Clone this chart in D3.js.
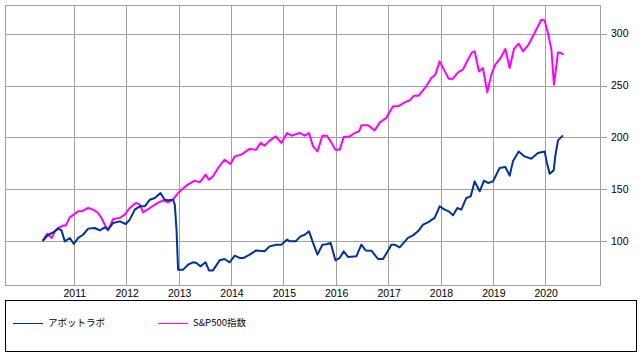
<!DOCTYPE html>
<html><head><meta charset="utf-8">
<script src="https://cdn.jsdelivr.net/npm/d3@7"></script>
<style>body{margin:0;background:#fff}svg{display:block}</style>
</head><body>
<svg id="c" width="643" height="356"></svg>
<script>
const abbottDates = ["2010-05-28","2010-07-06","2010-08-10","2010-09-14","2010-10-07","2010-10-30","2010-12-04","2011-01-01","2011-01-31","2011-03-07","2011-04-11","2011-05-27","2011-07-01","2011-08-05","2011-08-28","2011-10-02","2011-11-18","2011-12-29","2012-01-26","2012-03-01","2012-04-05","2012-05-10","2012-06-14","2012-07-19","2012-08-27","2012-09-26","2012-10-19","2012-11-23","2012-12-05","2012-12-17","2012-12-28","2013-02-01","2013-03-07","2013-04-11","2013-05-05","2013-06-01","2013-07-08","2013-07-31","2013-08-28","2013-10-14","2013-11-17","2013-12-22","2014-01-27","2014-03-02","2014-03-30","2014-05-11","2014-06-26","2014-08-23","2014-09-27","2014-11-13","2014-12-18","2015-01-27","2015-02-15","2015-03-28","2015-04-30","2015-05-30","2015-06-29","2015-07-27","2015-08-27","2015-09-30","2015-10-28","2015-11-27","2015-12-30","2016-01-29","2016-02-26","2016-03-27","2016-05-24","2016-06-28","2016-07-28","2016-09-06","2016-10-22","2016-11-26","2017-01-07","2017-01-23","2017-02-15","2017-03-22","2017-05-19","2017-06-23","2017-07-28","2017-09-01","2017-10-05","2017-11-21","2017-12-26","2018-01-30","2018-02-27","2018-03-29","2018-04-28","2018-05-26","2018-06-30","2018-07-30","2018-08-27","2018-10-01","2018-10-31","2018-11-28","2019-01-02","2019-02-17","2019-03-29","2019-04-28","2019-05-21","2019-06-30","2019-08-10","2019-09-26","2019-11-11","2019-12-28","2020-01-13","2020-02-01","2020-02-29","2020-03-11","2020-03-30","2020-05-04"];
const abbottValues = [100,106,108.3,111.9,110.2,99.6,102.9,97.1,102.9,106,111.9,112.5,110.2,113.1,110.9,117.4,118.9,116.4,120.6,130.2,133.4,133.4,139.8,141.5,146.3,139.8,139.2,139.8,135,110.9,72.3,72.3,77.1,79.4,78.8,75.5,79.4,71.6,71.6,81.3,82.6,79.4,85.8,83.6,83.6,86.8,90.9,90,94.8,96.4,96.4,101.3,99.6,99.6,104.4,106,109.3,98.1,86.8,96.4,96.8,98.1,81.3,83.6,90,84.6,85.2,96.4,90.9,90.6,82.6,82.6,92.3,96.4,96.4,93.8,102.9,105.4,109.3,115.7,117.9,122.2,133.4,130.2,128.6,124.7,131.8,130.2,141.5,143,157.5,147.9,158.2,156,157.5,170.4,171.4,163,176.8,186.4,181.6,179.4,184.9,186.4,175.3,164.9,168.1,181.6,197.1,201.9];

const spDates = ["2010-05-28","2010-06-29","2010-07-30","2010-08-22","2010-09-14","2010-10-18","2010-11-06","2010-12-04","2011-01-01","2011-01-31","2011-02-24","2011-04-11","2011-05-16","2011-06-19","2011-07-13","2011-08-05","2011-08-28","2011-10-02","2011-11-18","2011-12-22","2012-01-26","2012-03-08","2012-04-05","2012-04-28","2012-06-14","2012-07-30","2012-09-14","2012-10-19","2012-11-23","2012-12-28","2013-02-24","2013-04-23","2013-05-28","2013-07-08","2013-07-31","2013-08-28","2013-10-03","2013-11-17","2013-12-28","2014-01-27","2014-03-14","2014-05-11","2014-06-26","2014-07-26","2014-08-23","2014-09-22","2014-11-08","2014-12-18","2015-01-27","2015-02-26","2015-04-25","2015-05-30","2015-06-29","2015-07-27","2015-08-27","2015-09-30","2015-11-01","2015-11-27","2015-12-30","2016-01-29","2016-02-26","2016-04-08","2016-05-13","2016-06-12","2016-06-28","2016-08-13","2016-09-29","2016-11-03","2016-12-20","2016-12-31","2017-02-04","2017-03-11","2017-04-26","2017-05-31","2017-06-30","2017-08-02","2017-09-24","2017-10-29","2017-11-26","2017-12-26","2018-01-25","2018-02-27","2018-03-29","2018-05-03","2018-06-06","2018-07-11","2018-08-08","2018-08-27","2018-09-26","2018-10-24","2018-11-23","2018-12-21","2019-01-18","2019-02-24","2019-03-29","2019-04-28","2019-05-28","2019-06-30","2019-07-30","2019-09-07","2019-10-19","2019-12-05","2019-12-28","2020-01-20","2020-02-13","2020-03-02","2020-03-11","2020-03-30","2020-04-22","2020-05-08"];
const spValues = [100,107,102.9,109.3,112.5,114.8,114.8,122.8,125.4,128.6,128.6,131.8,130.2,127,122.2,115.7,110.2,121.2,122.2,125.4,131.8,136.7,135,127.6,131.8,136,139.2,137.3,139.8,146.3,153.4,158.2,156.5,164,159.1,162.3,170.4,178.4,174.3,181.6,183.3,188.8,188.1,194.6,191.9,196.1,200.9,194.6,204.2,201.6,204.2,201.6,204.2,191.3,186.4,201.6,201.6,196.1,188.1,188.1,200.3,200.9,204.2,205.8,211.6,211.6,206.7,214.4,218.7,221.9,229.9,229.9,233.7,235.6,240.2,240.2,249.2,257.3,260.5,273.3,265.3,256.6,256.6,262.7,265.3,274.9,282,283,263.6,266.9,243.4,260.5,270.1,276.6,285.3,266.9,285.3,290.4,283,289.5,300.7,313.5,312.8,300.7,284.6,250.8,260.5,282,281.4,279.7];

const yTicks = [100,150,200,250,300];
const xYears = [2011,2012,2013,2014,2015,2016,2017,2018,2019,2020];
const seriesNames = ["アボットラボ","S&P500指数"];
const seriesColors = ["#003399","#ff00ff"];

const parse = d3.timeParse("%Y-%m-%d");
const svg = d3.select("#c");
const L = 5, R = 600, T = 5, B = 285;
const x = d3.scaleTime().domain([new Date(2009,8,8), new Date(2021,0,17)]).range([L,R]);
const y = d3.scaleLinear().domain([57.5,327.7]).range([B,T]);
const font = "'Liberation Sans', Arial, sans-serif";

// grid
const yearDates = xYears.map(yr => new Date(yr,0,1));
svg.append("g").selectAll("line").data(yearDates).join("line")
  .attr("x1", d => Math.round(x(d))+0.5).attr("x2", d => Math.round(x(d))+0.5)
  .attr("y1", T).attr("y2", B).attr("stroke","#a0a0a0").attr("stroke-width",1);
svg.append("g").selectAll("line").data(yTicks).join("line")
  .attr("x1", L).attr("x2", R+7)
  .attr("y1", d => Math.round(y(d))+0.5).attr("y2", d => Math.round(y(d))+0.5)
  .attr("stroke","#a0a0a0").attr("stroke-width",1);
svg.append("rect").attr("x",L+0.5).attr("y",T+0.5).attr("width",R-L).attr("height",B-T)
  .attr("fill","none").attr("stroke","#a0a0a0").attr("stroke-width",1);

// y labels
svg.append("g").selectAll("text").data(yTicks).join("text")
  .attr("x", 611).attr("y", d => y(d)).attr("dy","0.35em")
  .attr("font-family", font).attr("font-size","10.5px").attr("fill","#000")
  .text(d => d);
// x labels
svg.append("g").selectAll("text").data(yearDates).join("text")
  .attr("x", d => x(d)+1).attr("y", 297).attr("text-anchor","middle")
  .attr("font-family", font).attr("font-size","10.5px").attr("fill","#000")
  .text(d => d.getFullYear());

// lines
const line = d3.line().x(d => x(d[0])).y(d => y(d[1]));
const ab = abbottDates.map((d,i) => [parse(d), abbottValues[i]]);
const sp = spDates.map((d,i) => [parse(d), spValues[i]]);
svg.append("path").datum(sp).attr("d", line).attr("fill","none")
  .attr("stroke", seriesColors[1]).attr("stroke-width",2).attr("stroke-linejoin","round");
svg.append("path").datum(ab).attr("d", line).attr("fill","none")
  .attr("stroke", seriesColors[0]).attr("stroke-width",2).attr("stroke-linejoin","round");

// legend
svg.append("rect").attr("x",5.5).attr("y",300.5).attr("width",631).attr("height",51)
  .attr("fill","none").attr("stroke","#000").attr("stroke-width",1);
const lg = svg.append("g").selectAll("g").data(seriesNames).join("g")
  .attr("transform",(d,i) => `translate(${13 + i*145},323)`);
lg.append("line").attr("x1",0).attr("x2",30).attr("y1",0.5).attr("y2",0.5)
  .attr("stroke",(d,i)=>seriesColors[i]).attr("stroke-width",1);
lg.append("text").attr("x",35).attr("y",0).attr("dy","0.35em")
  .attr("font-family","'Noto Sans CJK JP', sans-serif").attr("font-size","9.5px").attr("fill","#000")
  .text(d=>d);
</script>
</body></html>
